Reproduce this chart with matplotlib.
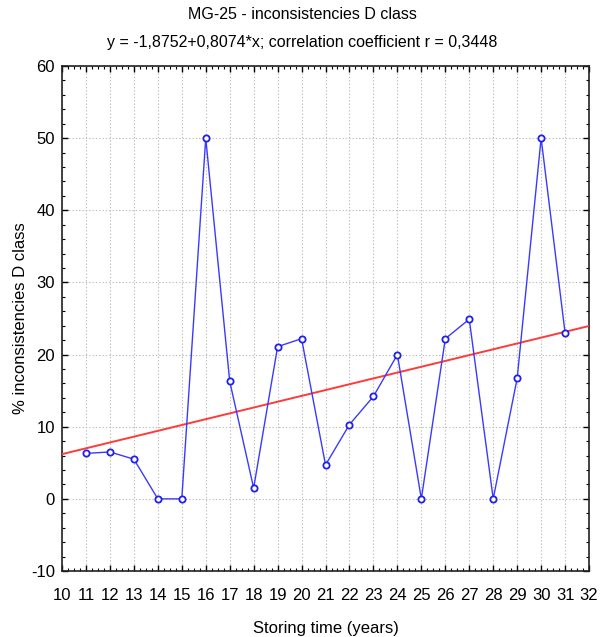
import matplotlib
matplotlib.use("Agg")
import matplotlib.pyplot as plt
import numpy as np
from matplotlib.ticker import MultipleLocator
from matplotlib import font_manager

years = [11, 12, 13, 14, 15, 16, 17, 18, 19, 20, 21, 22, 23, 24, 25, 26, 27, 28, 29, 30, 31]
values = [6.3, 6.5, 5.5, 0.0, 0.0, 50.0, 16.3, 1.5, 21.1, 22.2, 4.7, 10.3, 14.2, 20.0, 0.0, 22.2, 24.9, 0.0, 16.7, 50.0, 23.0]
intercept = -1.8752
slope = 0.8074
title_lines = ["MG-25 - inconsistencies D class",
               "y = -1,8752+0,8074*x; correlation coefficient r = 0,3448"]

names = {f.name for f in font_manager.fontManager.ttflist}
fam = ['Liberation Sans Narrow', 'Liberation Sans', 'DejaVu Sans']
fam = [f for f in fam if f in names] or ['DejaVu Sans']
plt.rcParams['font.family'] = fam
plt.rcParams['axes.unicode_minus'] = False

fig = plt.figure(figsize=(6.05, 6.37), dpi=100)
ax = fig.add_axes([0.1025, 0.1036, 0.8711, 0.7928])

xr = np.array([10, 32])
ax.plot(xr, intercept + slope * xr, color='#ff3a3a', lw=1.4, zorder=3)
ax.plot(years, values, color='#3a3aff', lw=1.0, marker='o', ms=4.5,
        mfc='white', mec='#2020ee', mew=1.3, zorder=4)

ax.set_xlim(10, 32)
ax.set_ylim(-10, 60)
ax.xaxis.set_major_locator(MultipleLocator(1))
ax.xaxis.set_minor_locator(MultipleLocator(0.25))
ax.yaxis.set_major_locator(MultipleLocator(10))
ax.yaxis.set_minor_locator(MultipleLocator(2))
ax.tick_params(which='both', direction='in', top=True, right=True, labelsize=12, colors='black')
ax.tick_params(which='major', length=4, width=1)
ax.tick_params(axis='y', which='major', pad=5)
ax.tick_params(axis='x', which='major', pad=12)
ax.tick_params(which='minor', length=2, width=0.8)
ax.grid(True, which='major', color='#bdbdbd', linestyle=(0, (1.2, 1.8)), lw=0.8)
for s in ax.spines.values():
    s.set_linewidth(1.2)
    s.set_color('#222222')

ax.set_xlabel("Storing time (years)", fontsize=12, labelpad=13)
ax.set_ylabel("% inconsistencies D class", fontsize=12, labelpad=2)
fig.text(0.5, 0.978, title_lines[0], ha='center', va='center', fontsize=11.5)
fig.text(0.5, 0.934, title_lines[1], ha='center', va='center', fontsize=11.5)

fig.savefig("out.png", dpi=100)
